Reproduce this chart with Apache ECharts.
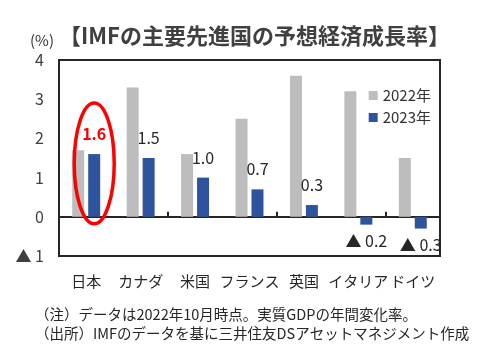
<!DOCTYPE html>
<html><head><meta charset="utf-8">
<script src="https://cdn.jsdelivr.net/npm/echarts@6/dist/echarts.min.js"></script>
<style>html,body{margin:0;padding:0;background:#fff;}#c{width:486px;height:359px;}</style>
</head><body><div id="c"></div>
<script>
const categories = ['日本','カナダ','米国','フランス','英国','イタリア','ドイツ'];
const values2022 = [1.7, 3.3, 1.6, 2.5, 3.6, 3.2, 1.5];
const values2023 = [1.6, 1.5, 1.0, 0.7, 0.3, -0.2, -0.3];
const yTicks = [-1, 0, 1, 2, 3, 4];
const highlightIndex = 0;

const FONT = '"Noto Sans CJK JP", "Noto Sans", sans-serif';
const fmt = v => v < 0 ? '▲ ' + Math.abs(v).toFixed(1) : v.toFixed(1);

const chart = echarts.init(document.getElementById('c'), null, {renderer: 'canvas'});
const grid = {left: 59, right: 46, top: 60, bottom: 103, show: true, borderColor: '#262626', borderWidth: 2, backgroundColor: 'transparent'};

const notes = '（注）データは2022年10月時点。実質GDPの年間変化率。\n（出所）IMFのデータを基に三井住友DSアセットマネジメント作成';

chart.setOption({
  animation: false,
  textStyle: {fontFamily: FONT},
  title: {
    text: '【IMFの主要先進国の予想経済成長率】',
    left: 54, top: 20,
    textStyle: {fontSize: 22, fontWeight: 'bold', color: '#404040', fontFamily: FONT}
  },
  legend: {
    orient: 'vertical', right: 50, top: 83, itemWidth: 9, itemHeight: 9, itemGap: 7,
    textStyle: {fontSize: 15, color: '#333', fontFamily: FONT},
    data: [{name: '2022年', icon: 'rect'}, {name: '2023年', icon: 'rect'}]
  },
  grid: grid,
  xAxis: [
    {type: 'category', data: categories, position: 'bottom',
     axisLine: {onZero: false, show: true, lineStyle: {color: '#262626', width: 2}},
     axisTick: {show: false},
     axisLabel: {fontSize: 15, color: '#262626', margin: 18, fontFamily: FONT, interval: 0}},
    {type: 'category', data: categories, position: 'bottom',
     axisLine: {onZero: true, show: true, lineStyle: {color: '#262626', width: 2}},
     axisTick: {show: true, inside: true, length: 5, lineStyle: {color: '#262626', width: 2}},
     axisLabel: {show: false}}
  ],
  yAxis: {
    type: 'value', min: -1, max: 4, interval: 1,
    axisLine: {show: true, lineStyle: {color: '#262626', width: 2}},
    axisTick: {show: false},
    splitLine: {show: false},
    axisLabel: {fontSize: 16, color: '#404040', margin: 15, fontFamily: FONT,
      formatter: v => yTicks.includes(v) ? (v < 0 ? '▲ ' + Math.abs(v) : String(v)) : ''}
  },
  series: [
    {name: '2022年', type: 'bar', data: values2022, barWidth: 12, barGap: '33%',
     itemStyle: {color: '#bdbdbd'}},
    {name: '2023年', type: 'bar',
     data: values2023.map((v, i) => {
       const o = {value: v};
       if (i === highlightIndex) o.label = {color: '#ff0000', fontWeight: 'bold'};
       if (v < 0) o.label = Object.assign({}, o.label || {}, {position: 'bottom', distance: 8});
       return o;
     }),
     barWidth: 12,
     itemStyle: {color: '#2f549f'},
     label: {show: true, position: 'top', distance: 12, fontSize: 16, color: '#262626', fontFamily: FONT,
       formatter: p => fmt(p.value)}}
  ]
});

// Red ellipse around highlighted bar pair
const c0 = chart.convertToPixel({xAxisIndex: 0}, highlightIndex);
const yTop = chart.convertToPixel({yAxisIndex: 0}, 2.9);
const yBot = chart.convertToPixel({yAxisIndex: 0}, -0.18);
chart.setOption({graphic: [
  {type: 'text', left: 30, top: 33, style: {text: '(%)', fontSize: 15, fill: '#333', fontFamily: FONT}},
  {type: 'text', left: 35, top: 305, style: {text: notes, fontSize: 14.5, lineHeight: 19, fill: '#262626', fontFamily: FONT}},
  {type: 'ellipse', shape: {cx: c0 + 8, cy: (yTop + yBot) / 2, rx: 20, ry: (yBot - yTop) / 2},
   style: {fill: 'none', stroke: '#ff0000', lineWidth: 3.5}, z: 100}
]});
</script></body></html>
